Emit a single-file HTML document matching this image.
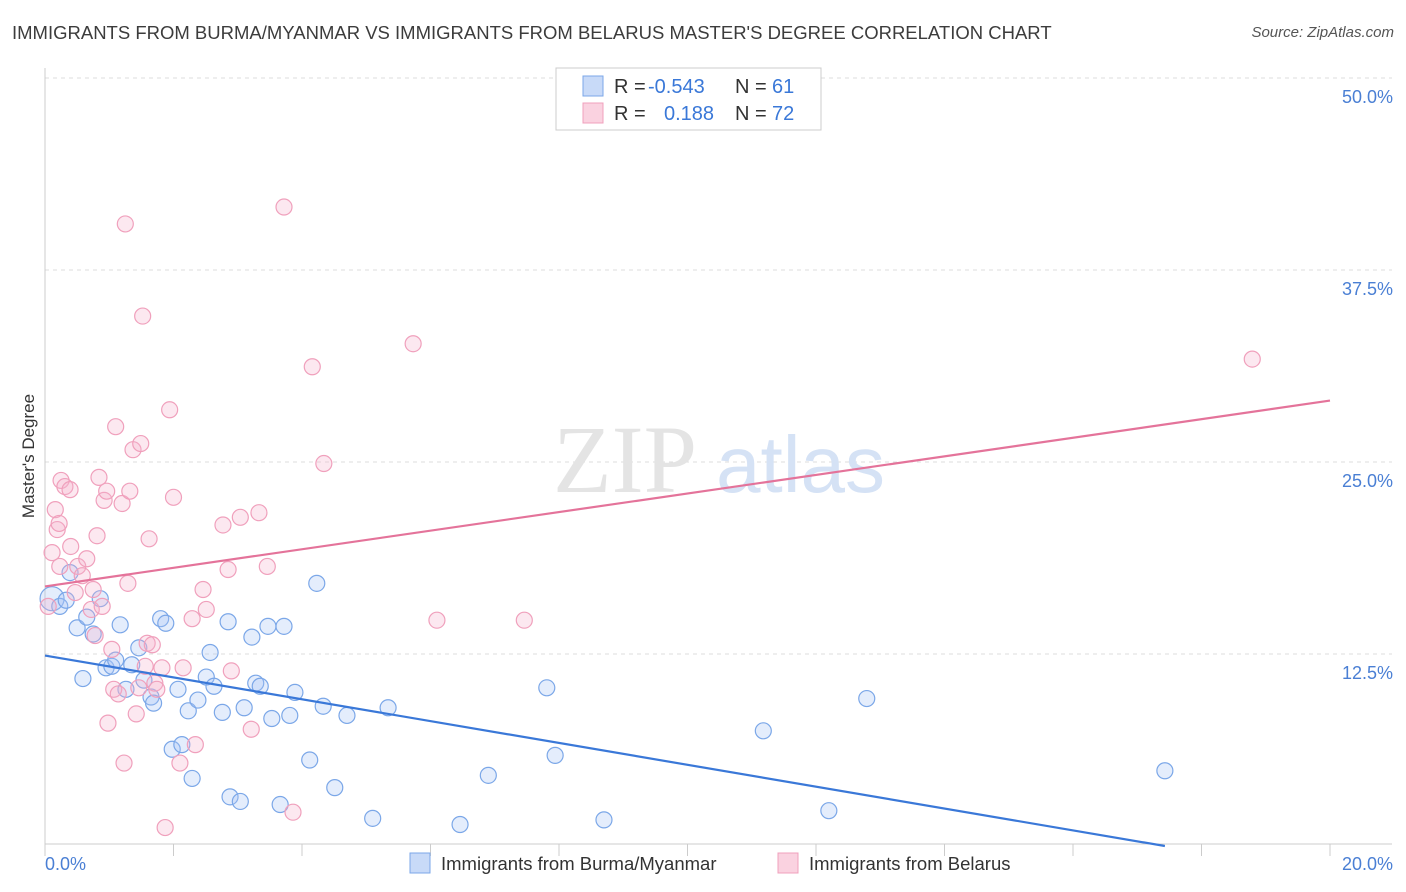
<!DOCTYPE html>
<html><head><meta charset="utf-8"><style>
body{margin:0;background:#fff;font-family:"Liberation Sans",sans-serif;}
#c{position:absolute;left:0;top:0;width:1406px;height:892px;}
.title{position:absolute;left:12px;top:22px;font-size:18.5px;color:#3c3c3c;}
.src{position:absolute;right:12px;top:24px;font-size:15px;font-style:italic;color:#555;}
</style></head><body>
<div class="title">IMMIGRANTS FROM BURMA/MYANMAR VS IMMIGRANTS FROM BELARUS MASTER'S DEGREE CORRELATION CHART</div>
<div class="src">Source: ZipAtlas.com</div>
<svg id="c" width="1406" height="892"></svg>
<script>
const xTicksLabels=["0.0%","20.0%"];
const yTicks=[12.5,25.0,37.5,50.0];
const yTickLabels=["12.5%","25.0%","37.5%","50.0%"];
const blueX=[0.11,0.23,0.33,0.39,0.5,0.59,0.65,0.75,0.86,0.95,1.04,1.1,1.17,1.26,1.35,1.46,1.54,1.65,1.69,1.8,1.88,1.98,2.07,2.13,2.23,2.29,2.38,2.51,2.57,2.63,2.76,2.85,2.88,3.04,3.1,3.22,3.28,3.35,3.47,3.53,3.66,3.72,3.81,3.89,4.12,4.23,4.33,4.51,4.7,5.1,5.34,6.46,6.9,7.81,7.94,8.7,11.18,12.2,12.79,17.43];
const blueY=[16.1,15.6,16.0,17.8,14.2,10.9,14.9,13.8,16.1,11.6,11.7,12.1,14.4,10.2,11.8,12.9,10.8,9.7,9.3,14.8,14.5,6.3,10.2,6.6,8.8,4.4,9.5,11.0,12.6,10.4,8.7,14.6,3.2,2.9,9.0,13.6,10.6,10.4,14.3,8.3,2.7,14.3,8.5,10.0,5.6,17.1,9.1,3.8,8.5,1.8,9.0,1.4,4.6,10.3,5.9,1.7,7.5,2.3,9.6,4.9];
const pinkX=[0.05,0.11,0.16,0.19,0.22,0.23,0.25,0.31,0.39,0.4,0.47,0.51,0.58,0.65,0.72,0.75,0.78,0.81,0.84,0.89,0.92,0.96,0.98,1.04,1.07,1.1,1.14,1.2,1.23,1.25,1.29,1.32,1.37,1.42,1.46,1.49,1.52,1.56,1.59,1.62,1.67,1.71,1.74,1.82,1.87,1.94,2.0,2.1,2.15,2.29,2.34,2.46,2.51,2.77,2.85,2.9,3.04,3.21,3.33,3.46,3.72,3.86,4.16,4.34,5.73,6.1,7.46,18.79];
const pinkY=[15.6,19.1,21.9,20.6,21.0,18.2,23.8,23.4,23.2,19.5,16.5,18.2,17.6,18.7,15.4,16.7,13.7,20.2,24.0,15.6,22.5,23.1,8.0,12.8,10.2,27.3,9.9,22.3,5.4,40.5,17.1,23.1,25.8,8.6,10.3,26.2,34.5,11.7,13.2,20.0,13.1,10.6,10.2,11.6,1.2,28.4,22.7,5.4,11.6,14.8,6.6,16.7,15.4,20.9,18.0,11.4,21.4,7.6,21.7,18.2,41.6,2.2,31.2,24.9,32.7,14.7,14.7,31.7];
const blueLine=[12.4,0.0,0,17.43];
const pinkLine=[16.9,29.0];
const X0=45,X1=1330,Y0=846,PXPER=192/12.5;
const sx=v=>X0+(X1-X0)*v/20, sy=v=>Y0-v*PXPER;
const svg=document.getElementById('c');const NS='http://www.w3.org/2000/svg';
function mk(t,a){const e=document.createElementNS(NS,t);for(const k in a)e.setAttribute(k,a[k]);svg.appendChild(e);return e;}
yTicks.forEach((t,i)=>{const g=mk('line',{x1:X0,x2:1392,y1:sy(t),y2:sy(t),stroke:'#ddd','stroke-dasharray':'4,4'});


const l=mk('text',{x:1393,y:sy(t)+25,'text-anchor':'end','font-size':18,fill:'#4a7fd4'});l.textContent=yTickLabels[i];

});
let ax=mk('line',{x1:X0,x2:X0,y1:68,y2:844,stroke:'#ccc'});


let bx=mk('line',{x1:X0,x2:1392,y1:844,y2:844,stroke:'#ccc'});


for(let i=0;i<=10;i++){const t=mk('line',{x1:sx(i*2),x2:sx(i*2),y1:844,y2:856,stroke:'#ccc'});

}
[[0,'start',45],[20,'end',1393]].forEach((d,i)=>{const t=mk('text',{x:d[2],y:870,'text-anchor':d[1],'font-size':18,fill:'#4a7fd4'});t.textContent=xTicksLabels[i];

});
let yt=mk('text',{x:34,y:456,'text-anchor':'middle','font-size':17,fill:'#333',transform:'rotate(-90 34 456)'});yt.textContent="Master's Degree";


let w=mk('text',{x:553,y:492,'font-size':96,fill:'#e4e4e4','font-family':'Liberation Serif'});w.textContent='ZIP';


let w2=mk('text',{x:716,y:492,'font-size':80,fill:'#d5e2f5'});w2.textContent='atlas';


blueX.forEach((x,i)=>{const c=mk('circle',{cx:sx(x),cy:sy(blueY[i]),r:i==0?12:8,fill:'rgba(164,194,244,0.3)',stroke:'#7ba7e8','stroke-width':1.2});

});
pinkX.forEach((x,i)=>{const c=mk('circle',{cx:sx(x),cy:sy(pinkY[i]),r:8,fill:'rgba(246,180,204,0.3)',stroke:'#f0a0bc','stroke-width':1.2});

});
let bl=mk('line',{x1:sx(blueLine[2]),y1:sy(blueLine[0]),x2:sx(blueLine[3]),y2:sy(blueLine[1]),stroke:'#3a78d8','stroke-width':2.2});


let pl=mk('line',{x1:sx(0),y1:sy(pinkLine[0]),x2:sx(20),y2:sy(pinkLine[1]),stroke:'#e4739a','stroke-width':2.2});


let lb=mk('rect',{x:556,y:68,width:265,height:62,fill:'#fff',stroke:'#ccc'});


[['rgba(164,194,244,0.6)','#7ba7e8','-0.543','61',86],['rgba(246,180,204,0.6)','#f0a0bc','0.188','72',113]].forEach(d=>{
const r=mk('rect',{x:583,y:d[4]-10,width:20,height:20,fill:d[0],stroke:d[1]});


const t=mk('text',{x:614,y:d[4]+7,'font-size':20,fill:'#333'});
t.innerHTML='R = <tspan fill="#3a78d8" x="648">'+d[2]+'</tspan><tspan x="735" fill="#333">N = </tspan><tspan fill="#3a78d8" x="772">'+d[3]+'</tspan>';
if(d[2][0]!='-')t.children[0].setAttribute('x','664');

});
[[410,'rgba(164,194,244,0.6)','#7ba7e8','Immigrants from Burma/Myanmar'],[778,'rgba(246,180,204,0.6)','#f0a0bc','Immigrants from Belarus']].forEach(d=>{
const r=mk('rect',{x:d[0],y:853,width:20,height:20,fill:d[1],stroke:d[2]});


const t=mk('text',{x:d[0]+31,y:870,'font-size':18.5,fill:'#333'});t.textContent=d[3];

});
</script>
</body></html>
